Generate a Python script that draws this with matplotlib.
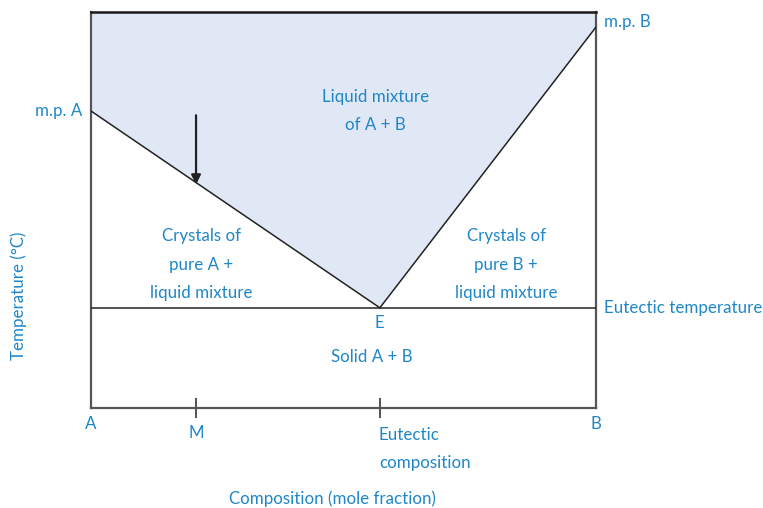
import matplotlib
matplotlib.use("Agg")
import matplotlib.pyplot as plt
from matplotlib.patches import Polygon

# Data (composition as mole fraction of B, temperature in arbitrary units)
x_A, x_B = 0.0, 1.0
x_E = 0.572          # eutectic composition
x_M = 0.208          # composition M
T_A = 75.0           # melting point of A
T_B = 96.2           # melting point of B
T_E = 25.3           # eutectic temperature
T_top = 100.0
tick_positions = [x_M, x_E]

blue = "#1f86c8"
fill = "#e1e8f5"
plt.rcParams['font.family'] = ['Lato', 'DejaVu Sans']

fig = plt.figure(figsize=(7.63, 5.08), dpi=100)
ax = fig.add_axes([91/763, 100/508, 505/763, 396/508])
ax.set_xlim(x_A, x_B)
ax.set_ylim(0, T_top)

# liquid region
poly = Polygon([(x_A, T_top), (x_B, T_top), (x_B, T_B), (x_E, T_E), (x_A, T_A)],
               closed=True, facecolor=fill, edgecolor='none', zorder=1)
ax.add_patch(poly)

# liquidus lines
ax.plot([x_A, x_E, x_B], [T_A, T_E, T_B], color='#222222', lw=1.1, zorder=3)
# eutectic line
ax.plot([x_A, x_B], [T_E, T_E], color='#222222', lw=1.1, zorder=3)

for s in ['left', 'right', 'bottom']:
    ax.spines[s].set_color('#555555')
    ax.spines[s].set_linewidth(1.6)
ax.spines['top'].set_color('#1a1a1a')
ax.spines['top'].set_linewidth(1.8)

ax.set_xticks(tick_positions)
ax.set_xticklabels([])
ax.tick_params(axis='x', direction='inout', length=14, width=1.2, color='#333333')
ax.set_yticks([])

# arrow
T_liq_M = T_A + (T_E - T_A) * (x_M - x_A) / (x_E - x_A)
ax.annotate('', xy=(x_M, T_liq_M - 0.5), xytext=(x_M, T_liq_M + 17),
            arrowprops=dict(arrowstyle='-|>', color='#222222', lw=1.6,
                            mutation_scale=14, shrinkA=0, shrinkB=0), zorder=4)

fs = 12.2
kw = dict(color=blue, fontsize=fs, clip_on=False, linespacing=1.95)
ax.text(-0.018, T_A, 'm.p. A', ha='right', va='center', **kw)
ax.text(1.016, T_B + 1.3, 'm.p. B', ha='left', va='center', **kw)
ax.text(1.016, T_E, 'Eutectic temperature', ha='left', va='center', **kw)
ax.text(0.563, 75.0, 'Liquid mixture\nof A + B', ha='center', va='center', **kw)
ax.text(0.219, 36.2, 'Crystals of\npure A +\nliquid mixture', ha='center', va='center', **kw)
ax.text(0.822, 36.2, 'Crystals of\npure B +\nliquid mixture', ha='center', va='center', **kw)
ax.text(x_E, 21.5, 'E', ha='center', va='center', **kw)
ax.text(0.556, 12.9, 'Solid A + B', ha='center', va='center', **kw)
ax.text(x_A, -4.0, 'A', ha='center', va='center', **kw)
ax.text(x_M, -6.3, 'M', ha='center', va='center', **kw)
ax.text(x_B, -4.0, 'B', ha='center', va='center', **kw)
ax.text(x_E - 0.002, -10.4, 'Eutectic\ncomposition', ha='left', va='center', **kw)
ax.text(0.479, -23.0, 'Composition (mole fraction)', ha='center', va='center', **kw)
ax.text(-0.143, 28.3, 'Temperature (°C)', ha='center', va='center', rotation=90, **kw)

fig.savefig('out.png', dpi=100)
